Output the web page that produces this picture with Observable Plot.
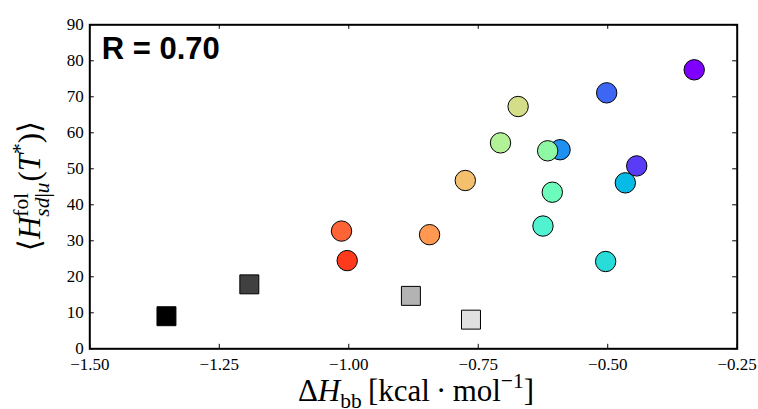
<!DOCTYPE html>
<html><head><meta charset="utf-8">
<script src="https://cdn.jsdelivr.net/npm/d3@7"></script>
<script src="https://cdn.jsdelivr.net/npm/@observablehq/plot@0.6"></script>
<style>
html,body{margin:0;padding:0;background:#fff;}
#chart svg{display:block;}
</style>
</head><body>
<div id="chart"></div>
<script>
// ---- data ----
const markers = ["square","square","square","square",
  "circle","circle","circle","circle","circle","circle","circle","circle",
  "circle","circle","circle","circle","circle","circle","circle"];
const deltaHbb = [-1.352,-1.192,-0.880,-0.764,
  -0.333,-0.444,-0.502,-0.592,-0.466,-0.504,-0.625,-0.607,
  -0.616,-0.707,-0.673,-0.775,-0.844,-1.014,-1.003];
const hfol = [9.05,17.9,14.7,8.1,
  77.5,50.8,71.1,55.3,46.1,24.25,34.1,43.5,
  55.0,57.2,67.3,46.75,31.7,32.7,24.5];
const pointColors = ["#000000","#404040","#b3b3b3","#e0e0e0",
  "#7f00ff","#5a3cf6","#3d66f5","#1e90f0","#08bae6","#28dcd9","#50f2d0","#6cfcbc",
  "#8ef8a4","#b2f296","#d4dd88","#f4c06e","#ff9850","#ff6436","#ff3a1c"];
const xTicks = [-1.5,-1.25,-1.0,-0.75,-0.5,-0.25];
const yTicks = [0,10,20,30,40,50,60,70,80,90];
const annotation = "R = 0.70";

// ---- layout ----
const W = 758, H = 409;
const mL = 89.3, mR = 21.3, mT = 24.3, mB = 60.7;
const pw = W - mL - mR, ph = H - mT - mB;
const tickLen = 4.5;
const serif = "Liberation Serif, DejaVu Serif, serif";

const data = deltaHbb.map((x, i) => ({x, y: hfol[i], c: pointColors[i], m: markers[i]}));

const plot = Plot.plot({
  width: W, height: H,
  marginLeft: mL, marginRight: mR, marginTop: mT, marginBottom: mB,
  x: {domain: [-1.5, -0.25]},
  y: {domain: [0, 90]},
  color: {type: "identity"},
  style: {fontFamily: serif, fontSize: "17px", background: "#fff", color: "black", overflow: "visible"},
  marks: [
    Plot.tickX(xTicks, {x: d => d, insetTop: ph - tickLen, stroke: "black"}),
    Plot.tickX(xTicks, {x: d => d, insetBottom: ph - tickLen, stroke: "black"}),
    Plot.tickY(yTicks, {y: d => d, insetRight: pw - tickLen, stroke: "black"}),
    Plot.tickY(yTicks, {y: d => d, insetLeft: pw - tickLen, stroke: "black"}),
    Plot.axisX({anchor: "bottom", ticks: xTicks, tickSize: 0, tickPadding: 9, tickFormat: d3.format(".2f"), label: null,
      fontSize: 17, fill: "black"}),
    Plot.axisY({anchor: "left", ticks: yTicks, tickSize: 0, tickPadding: 6, tickFormat: d3.format("d"), label: null,
      fontSize: 17, fill: "black"}),
    Plot.dot(data.filter(d => d.m === "square"), {x: "x", y: "y", fill: "c", symbol: "square", r: 10.7, stroke: "black", strokeWidth: 1}),
    Plot.dot(data.filter(d => d.m === "circle"), {x: "x", y: "y", fill: "c", symbol: "circle", r: 10.2, stroke: "black", strokeWidth: 1}),
    Plot.text([annotation], {frameAnchor: "top-left", dx: 12, dy: 24, lineAnchor: "middle", textAnchor: "start",
      fontFamily: "Liberation Sans, Arial, sans-serif", fontWeight: "bold", fontSize: 31, fill: "black"}),
    Plot.frame({stroke: "black", strokeWidth: 2})
  ]
});
document.getElementById("chart").appendChild(plot);

const svg = d3.select(plot);
// force serif tick labels
svg.selectAll("g").filter(function() { return (this.getAttribute("aria-label") || "").includes("tick label"); })
  .style("font-family", serif).selectAll("text").style("font-family", serif);

// ---- axis labels (math-style text) ----
const fs = 31, small = 21.5;

// x label: ΔH_bb [kcal · mol^{-1}]
const xl = svg.append("text")
  .attr("x", mL + pw / 2 + 3).attr("y", 401)
  .attr("text-anchor", "middle")
  .style("font-family", serif).attr("font-size", fs).attr("fill", "black");
xl.append("tspan").text("Δ");
xl.append("tspan").attr("font-style", "italic").text("H");
xl.append("tspan").attr("font-size", small).attr("dy", 7).text("bb");
xl.append("tspan").attr("dy", -7).text("\u2009[kcal\u2009·\u2009mol");
xl.append("tspan").attr("font-size", small).attr("dy", -13).text("−1");
xl.append("tspan").attr("dy", 13).text("]");

// y label: ⟨H^{fol}_{sd|u}(T*)⟩
const yl = svg.append("text")
  .attr("transform", "translate(40,186) rotate(-90)")
  .attr("text-anchor", "middle")
  .style("font-family", serif).attr("font-size", fs).attr("fill", "black");
yl.append("tspan").text("⟨");
yl.append("tspan").attr("font-style", "italic").text("H");
const sup = yl.append("tspan").attr("font-size", small).attr("dy", -12).text("fol");
const wSup = sup.node().getComputedTextLength();
const sub = yl.append("tspan").attr("font-size", small).attr("dx", -wSup).attr("dy", 21);
sub.append("tspan").attr("font-style", "italic").text("sd");
sub.append("tspan").text("|");
sub.append("tspan").attr("font-style", "italic").text("u");
const wSub = sub.node().getComputedTextLength();
yl.append("tspan").attr("dy", -9).attr("dx", Math.max(0, wSup - wSub) + 1).text("(");
yl.append("tspan").attr("font-style", "italic").text("T");
yl.append("tspan").attr("font-size", small).attr("dy", -13).text("*");
yl.append("tspan").attr("dy", 13).text(")⟩");
</script>
</body></html>
